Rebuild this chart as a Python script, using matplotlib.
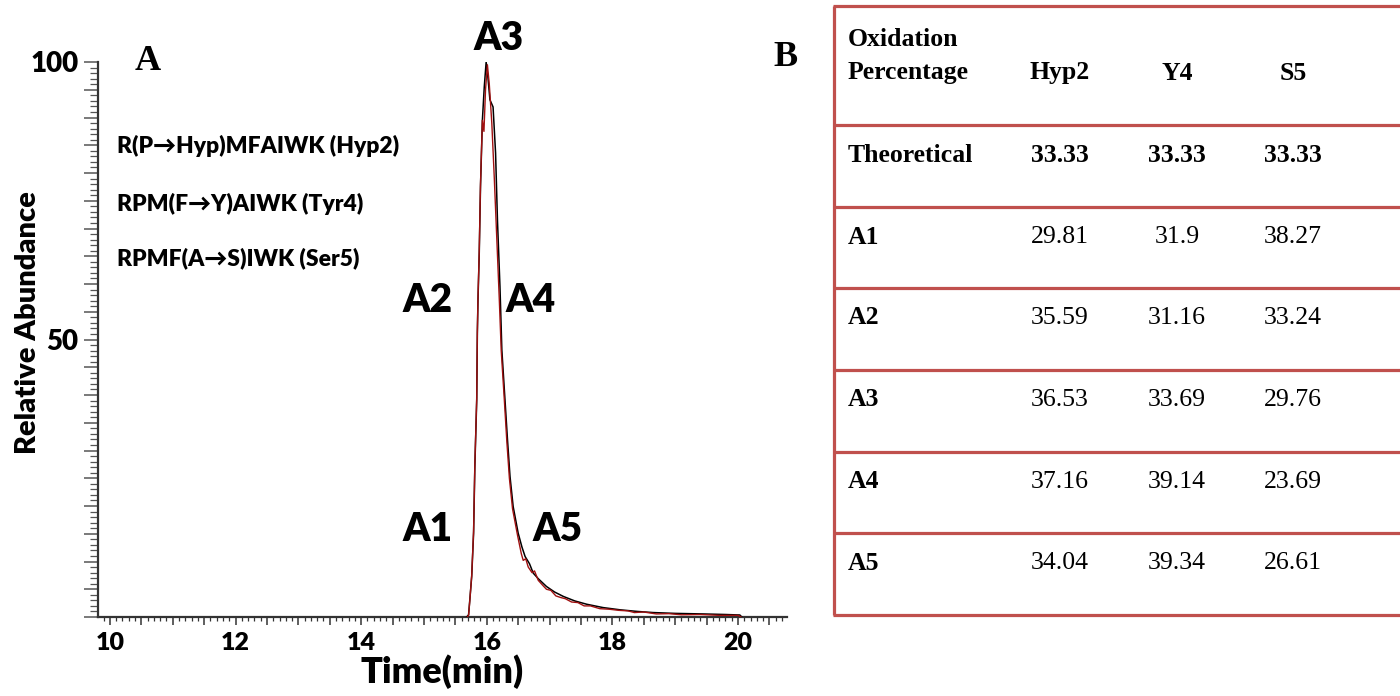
import matplotlib
matplotlib.use('Agg')
import matplotlib.pyplot as plt
import numpy as np
from matplotlib.ticker import MultipleLocator

# chromatogram traces (time in min, relative abundance)
t_black = [15.68, 15.71, 15.73, 15.76, 15.79, 15.81, 15.84, 15.85, 15.86, 15.88,
           15.90, 15.93, 15.96, 15.99, 16.02, 16.05, 16.10, 16.14, 16.17, 16.21,
           16.24, 16.29, 16.33, 16.37, 16.42, 16.50, 16.56, 16.61, 16.68, 16.74,
           16.82, 16.95, 17.08, 17.22, 17.40, 17.59, 17.85, 18.12, 18.40, 18.65,
           19.00, 19.45, 19.80, 20.03, 20.06]
y_black = [0.0, 0.4, 3.1, 7.3, 15.1, 27.1, 39.1, 51.2, 57.1, 65.5,
           77.5, 89.5, 95.5, 100.0, 97.0, 93.2, 91.9, 83.6, 71.5, 59.5,
           48.1, 39.1, 31.9, 25.3, 19.9, 15.1, 12.6, 10.9, 9.6, 7.9,
           6.9, 5.5, 4.5, 3.7, 2.9, 2.3, 1.7, 1.3, 1.0, 0.8,
           0.65, 0.55, 0.45, 0.36, 0.0]

t_red = [15.69, 15.71, 15.73, 15.76, 15.79, 15.81, 15.84, 15.85, 15.86, 15.88,
         15.90, 15.93, 15.955, 15.98, 16.01, 16.04, 16.08, 16.12, 16.16, 16.20,
         16.23, 16.28, 16.32, 16.36, 16.41, 16.49, 16.55, 16.58, 16.62, 16.66,
         16.72, 16.76, 16.82, 16.90, 16.95, 17.02, 17.10, 17.18, 17.25, 17.35,
         17.45, 17.55, 17.65, 17.80, 17.95, 18.10, 18.25, 18.35, 18.50, 18.70,
         18.90, 19.10, 19.40, 19.70, 20.00, 20.05]
y_red = [0.0, 0.3, 3.0, 7.5, 15.5, 27.5, 39.5, 51.5, 57.5, 66.0,
         78.0, 89.5, 87.5, 95.0, 99.5, 96.0, 89.0, 79.0, 68.0, 57.0,
         48.0, 39.0, 31.5, 25.0, 19.5, 14.7, 11.4, 10.2, 10.5, 9.0,
         8.0, 8.3, 6.6, 5.6, 5.0, 4.8, 3.8, 3.5, 3.3, 2.7,
         2.6, 2.0, 2.0, 1.5, 1.4, 1.2, 1.1, 0.8, 0.9, 0.55,
         0.6, 0.4, 0.45, 0.3, 0.3, 0.0]

peaks = ['A1', 'A2', 'A3', 'A4', 'A5']
peak_t = [15.06, 15.06, 16.18, 16.70, 17.13]
peak_y = [15.7, 57.1, 104.3, 57.1, 15.7]

peptides = ['R(P\u2192Hyp)MFAIWK (Hyp2)', 'RPM(F\u2192Y)AIWK (Tyr4)',
            'RPMF(A\u2192S)IWK (Ser5)']
peptide_y = [84.9, 74.4, 64.7]

# table
col_labels = ['Hyp2', 'Y4', 'S5']
row_labels = ['Theoretical', 'A1', 'A2', 'A3', 'A4', 'A5']
hyp2 = ['33.33', '29.81', '35.59', '36.53', '37.16', '34.04']
y4 = ['33.33', '31.9', '31.16', '33.69', '39.14', '39.34']
s5 = ['33.33', '38.27', '33.24', '29.76', '23.69', '26.61']

sans = ['Lato', 'DejaVu Sans']
serif = ['Liberation Serif', 'DejaVu Serif']
tab_red = '#C0504D'

plt.rcParams['font.family'] = sans
plt.rcParams['font.weight'] = 'heavy'
plt.rcParams['axes.labelweight'] = 'heavy'

fig = plt.figure(figsize=(14, 6.96), dpi=100)

# ---- panel A ----
ax = fig.add_axes([98/1400, 79/696, (787-98)/1400, (617-62)/696])
ax.plot(t_black, y_black, color='black', lw=1.1, zorder=3)
ax.plot(t_red, y_red, color='#A01010', lw=1.0, zorder=4)
ax.set_xlim(9.81, 20.78)
ax.set_ylim(0, 100)
for s in ['top', 'right']:
    ax.spines[s].set_visible(False)
for s in ['left', 'bottom']:
    ax.spines[s].set_linewidth(1.6)
    ax.spines[s].set_color('#333333')

xt = np.arange(10, 20.51, 0.5)
ax.set_xticks(xt)
ax.set_xticklabels([f'{v:.0f}' if v % 2 == 0 else '' for v in xt])
ax.xaxis.set_minor_locator(MultipleLocator(0.1))
yt = np.arange(0, 100.1, 5)
ax.set_yticks(yt)
ax.set_yticklabels([f'{v:.0f}' if v in (50, 100) else '' for v in yt])
ax.yaxis.set_minor_locator(MultipleLocator(1))

ax.tick_params(axis='x', which='major', length=6, width=1.1, color='#333333',
               pad=5, labelsize=18)
ax.tick_params(axis='x', which='minor', length=3, width=0.9, color='#333333')
ax.tick_params(axis='y', which='major', length=10, width=1.1, color='#555555',
               pad=4, labelsize=20)
ax.tick_params(axis='y', which='minor', length=6, width=0.9, color='#555555')
ax.set_xlabel('Time(min)', fontsize=26, labelpad=0)
ax.set_ylabel('Relative Abundance', fontsize=21)
ax.yaxis.set_label_coords((41 - 98) / 689, 0.53)

for name, tx, ty in zip(peaks, peak_t, peak_y):
    ax.text(tx, ty, name, ha='center', va='center', fontsize=28, clip_on=False)
for name, ty in zip(peptides, peptide_y):
    ax.text(10.11, ty, name, ha='left', va='center', fontsize=16.5)

# ---- panel letters and table (pixel coordinates) ----
tax = fig.add_axes([0, 0, 1, 1])
tax.set_xlim(0, 1400)
tax.set_ylim(696, 0)
tax.axis('off')
tax.patch.set_alpha(0)
tax.text(148, 62, 'A', ha='center', va='center', fontfamily=serif,
         fontweight='bold', fontsize=26)
tax.text(785, 57, 'B', ha='center', va='center', fontfamily=serif,
         fontweight='bold', fontsize=26)

left, right = 834, 1402
row_lines = [6, 125, 207, 288, 370, 452, 533, 615]
for yl in row_lines:
    tax.plot([left - 1.5, right], [yl, yl], color=tab_red, lw=2.3,
             solid_capstyle='butt')
tax.plot([left, left], [row_lines[0], row_lines[-1]], color=tab_red, lw=2.3,
         solid_capstyle='butt')

col_x = [1060, 1177, 1293]
fs = 18.5
tax.text(848, 40, 'Oxidation', ha='left', va='center', fontfamily=serif,
         fontweight='bold', fontsize=fs)
tax.text(848, 73, 'Percentage', ha='left', va='center', fontfamily=serif,
         fontweight='bold', fontsize=fs)
for cx, lab in zip(col_x, col_labels):
    tax.text(cx, 73, lab, ha='center', va='center', fontfamily=serif,
             fontweight='bold', fontsize=fs)
for i, lab in enumerate(row_labels):
    yc = row_lines[i + 1] + 30
    tax.text(848, yc, lab, ha='left', va='center', fontfamily=serif,
             fontweight='bold', fontsize=fs)
    w = 'bold' if i == 0 else 'normal'
    for cx, vals in zip(col_x, [hyp2, y4, s5]):
        tax.text(cx, yc, vals[i], ha='center', va='center', fontfamily=serif,
                 fontweight=w, fontsize=fs)

fig.savefig('out.png', dpi=100)
